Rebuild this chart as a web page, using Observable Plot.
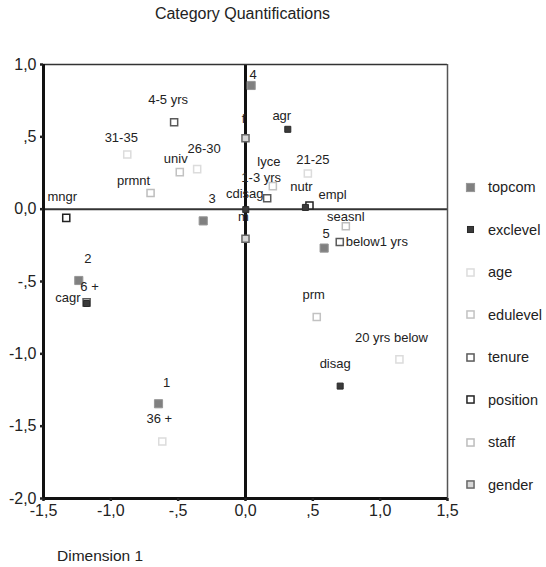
<!DOCTYPE html>
<html><head><meta charset="utf-8">
<script src="https://cdn.jsdelivr.net/npm/d3@7"></script>
<script src="https://cdn.jsdelivr.net/npm/@observablehq/plot@0.6"></script>
<style>
body{margin:0;background:#fff;font-family:"Liberation Sans",Arial,sans-serif;}
#wrap{position:relative;width:546px;height:567px;overflow:hidden;}
#chart{position:absolute;left:0;top:0;}
#title{position:absolute;left:0;width:485px;top:5px;text-align:center;font-size:16px;color:#222;}
#xlab{position:absolute;left:57px;top:547px;font-size:15.5px;color:#222;}
.leg{position:absolute;left:464px;height:20px;display:flex;align-items:center;font-size:14.5px;color:#222;white-space:nowrap;}
.leg svg{margin-right:11px;}
</style></head><body>
<div id="wrap">
  <div id="chart"></div>
  <div id="title">Category Quantifications</div>
  <div id="xlab">Dimension 1</div>
  <div id="legend"></div>
</div>
<script>
// ---- data ----
const variables = ["topcom","exclevel","age","edulevel","tenure","position","staff","gender"];

const catLabels = ["1","2","3","4","5",
  "agr","nutr","disag","cagr","cdisag",
  "20 yrs below","21-25","26-30","31-35","36 +",
  "prm","lyce","univ",
  "below1 yrs","1-3 yrs","4-5 yrs","6 +",
  "mngr","empl",
  "prmnt","seasnl",
  "f","m"];
const catVariable = ["topcom","topcom","topcom","topcom","topcom",
  "exclevel","exclevel","exclevel","exclevel","exclevel",
  "age","age","age","age","age",
  "edulevel","edulevel","edulevel",
  "tenure","tenure","tenure","tenure",
  "position","position",
  "staff","staff",
  "gender","gender"];
const dim1 = [-0.646,-1.238,-0.314,0.042,0.584,
  0.314,0.445,0.703,-1.180,0.002,
  1.143,0.463,-0.359,-0.878,-0.618,
  0.529,0.203,-0.488,
  0.700,0.161,-0.530,-1.180,
  -1.331,0.475,
  -0.705,0.745,
  0.000,0.000];
const dim2 = [-1.345,-0.493,-0.081,0.855,-0.269,
  0.552,0.012,-1.223,-0.652,-0.003,
  -1.038,0.247,0.277,0.378,-1.606,
  -0.745,0.159,0.256,
  -0.227,0.075,0.601,-0.644,
  -0.060,0.025,
  0.112,-0.118,
  0.490,-0.205];

const xTicks = [-1.5,-1,-0.5,0,0.5,1,1.5];
const xTickLabels = ["-1,5","-1,0","-,5","0,0",",5","1,0","1,5"];
const yTicks = [1,0.5,0,-0.5,-1,-1.5,-2];
const yTickLabels = ["1,0",",5","0,0","-,5","-1,0","-1,5","-2,0"];

// ---- styles (not data) ----
const styles = {
  topcom:   {r:4.6, fill:"#808080", stroke:"#969696", sw:1},
  exclevel: {r:3.4, fill:"#3a3a3a", stroke:"#2a2a2a", sw:1},
  age:      {r:4.0, fill:"#fff",    stroke:"#dcdcdc", sw:1.5},
  edulevel: {r:4.0, fill:"#fff",    stroke:"#c2c2c2", sw:1.5},
  tenure:   {r:4.0, fill:"#fff",    stroke:"#5a5a5a", sw:1.5},
  position: {r:4.0, fill:"#fff",    stroke:"#222",    sw:1.5},
  staff:    {r:4.0, fill:"#fff",    stroke:"#bdbdbd", sw:1.5},
  gender:   {r:4.0, fill:"#d8d8d8", stroke:"#666",    sw:1.5}
};
const drawOrder = ["age","edulevel","staff","gender","tenure","position","topcom","exclevel"];

// label placement (dx, dy, anchor); default centred above the marker
const labelNudge = {
  "4":[2,-11],"agr":[-6,-13],"univ":[-4,-13],"21-25":[5,-14],"5":[2,-14],
  "cdisag":[-1,-16],"6 +":[3,-16],"31-35":[-6,-17],"seasnl":[0,-9],
  "prmnt":[-17,-12],"26-30":[7,-20],"3":[9,-22],"2":[9,-22],"1":[8,-21],
  "4-5 yrs":[-6,-22],"prm":[-3,-22],"20 yrs below":[-8,-22],"disag":[-5,-22],
  "lyce":[-4,-24],"1-3 yrs":[-6,-20],"nutr":[-4,-21],"mngr":[-4,-21],"m":[-2,-22],
  "f":[-2,-19],"36 +":[-3,-23],
  "below1 yrs":[6,0,"start"],"empl":[9,-11,"start"],"cagr":[-6,-6,"end"]
};

const data = catLabels.map((c,i)=>({label:c, variable:catVariable[i], x:dim1[i], y:dim2[i]}));

const fmt = (ticks, labels) => d => { const i = ticks.findIndex(t => Math.abs(t-d) < 1e-9); return i >= 0 ? labels[i] : ""; };

const dotMarks = drawOrder.map(v => {
  const s = styles[v];
  return Plot.dot(data.filter(d => d.variable === v), {x:"x", y:"y", symbol:"square", r:s.r, fill:s.fill, stroke:s.stroke, strokeWidth:s.sw});
});
const labelMarks = data.map(d => {
  const n = labelNudge[d.label] || [0,-20];
  return Plot.text([d], {x:"x", y:"y", text:"label", dx:n[0], dy:n[1], textAnchor:n[2] || "middle", fontSize:13, fill:"#222"});
});

const chart = Plot.plot({
  width:546, height:567,
  marginLeft:43, marginRight:99, marginTop:64, marginBottom:69,
  style:{fontFamily:"'Liberation Sans', Arial, sans-serif", background:"transparent", color:"#222"},
  x:{domain:[-1.5,1.5], label:null},
  y:{domain:[-2,1], label:null},
  marks:[
    Plot.ruleY([0], {stroke:"#333", strokeWidth:2}),
    Plot.ruleX([0], {stroke:"#111", strokeWidth:3}),
    Plot.ruleY([yTicks[0]], {stroke:"#333", strokeWidth:1.5}),
    Plot.ruleX([xTicks[xTicks.length-1]], {stroke:"#555", strokeWidth:1.5}),
    Plot.ruleX([xTicks[0]], {stroke:"#111", strokeWidth:3}),
    Plot.ruleY([yTicks[yTicks.length-1]], {stroke:"#111", strokeWidth:3}),
    Plot.axisX({ticks:xTicks, tickFormat:fmt(xTicks,xTickLabels), tickSize:3, tickPadding:3, fontSize:16, strokeWidth:2.5, label:null}),
    Plot.axisY({ticks:yTicks, tickFormat:fmt(yTicks,yTickLabels), tickSize:3, tickPadding:4, fontSize:16, strokeWidth:2.5, label:null}),
    ...dotMarks,
    ...labelMarks
  ]
});
document.getElementById("chart").appendChild(chart);

// legend
const legend = document.getElementById("legend");
variables.forEach((v,i) => {
  const s = styles[v];
  const side = s.r * Math.sqrt(Math.PI);
  const row = document.createElement("div");
  row.className = "leg";
  row.style.top = (177 + i*42.5) + "px";
  row.innerHTML = `<svg width="13" height="13"><rect x="${6.5-side/2}" y="${6.5-side/2}" width="${side}" height="${side}" fill="${s.fill}" stroke="${s.stroke}" stroke-width="${s.sw}"/></svg><span>${v}</span>`;
  legend.appendChild(row);
});
</script></body></html>
